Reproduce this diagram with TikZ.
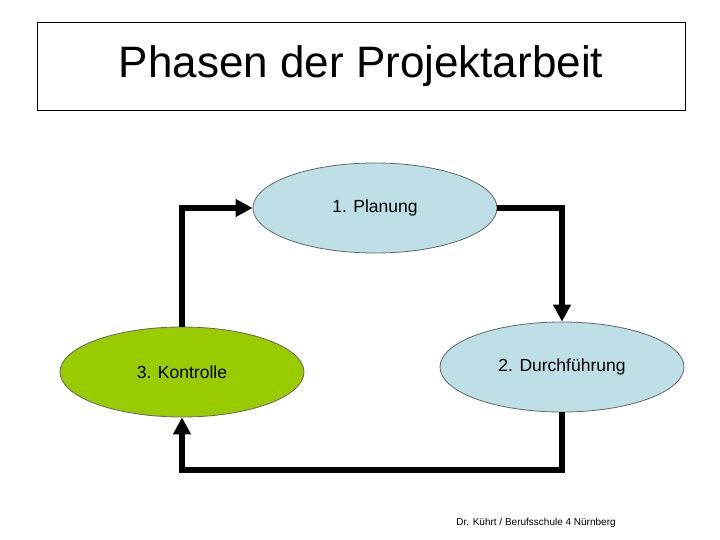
\documentclass[tikz,border=0pt]{standalone}
\usepackage{fontspec}
\setmainfont{Liberation Sans}
\usetikzlibrary{arrows.meta,shapes.geometric}
\definecolor{lblue}{HTML}{BEDFE5}
\definecolor{lgreen}{HTML}{99CC00}
\tikzset{
  phase/.style={ellipse,draw=black!60,line width=0.8pt,minimum width=244pt,minimum height=90pt,inner sep=0pt,font=\fontsize{17.5}{20}\selectfont},
  flow/.style={line width=6pt,-{Triangle[length=17pt,width=17pt]}}
}
\begin{document}
\begin{tikzpicture}[x=1pt,y=-1pt]
\useasboundingbox (0,0) rectangle (720,540);
\node[draw,line width=0.8pt,minimum width=648pt,minimum height=88pt,font=\fontsize{44}{50}\selectfont] (title) at (361,66) {Phasen der Projektarbeit};
\node[phase,fill=lblue] (p1) at (375,208) {1. Planung};
\node[phase,fill=lblue] (p2) at (562,367) {2. Durchführung};
\node[phase,fill=lgreen] (p3) at (182,372) {3. Kontrolle};
\draw[flow] (p3.north) |- (p1.west);
\draw[flow] (p1.east) -| (p2.north);
\draw[flow] (p2.south) -- ++(0,58) -| (p3.south);
\node[font=\fontsize{10}{12}\selectfont] (foot) at (536,523) {Dr. Kührt / Berufsschule 4 Nürnberg};
\end{tikzpicture}
\end{document}
